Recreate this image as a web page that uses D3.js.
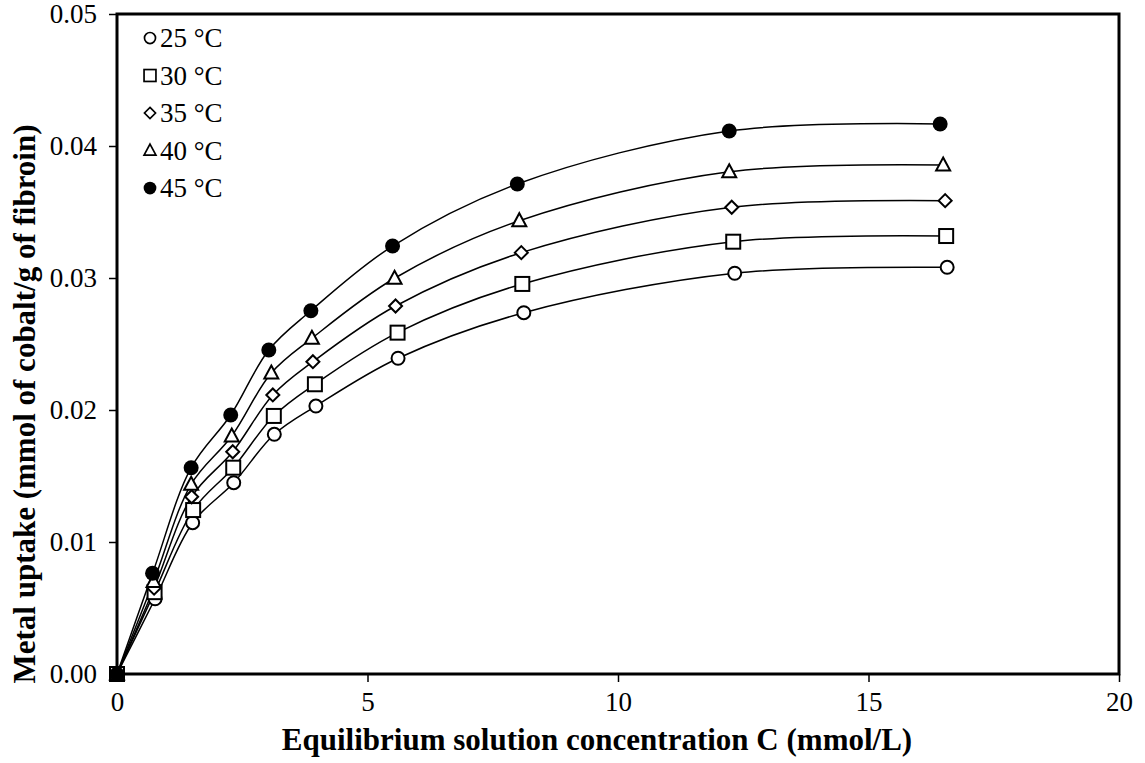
<!DOCTYPE html>
<html>
<head>
<meta charset="utf-8">
<script src="https://cdn.jsdelivr.net/npm/d3@7"></script>
<style>
  html, body { margin: 0; padding: 0; background: #fff; }
  svg { display: block; font-family: "Liberation Serif", "Times New Roman", serif; }
</style>
</head>
<body>
<svg id="chart" width="1145" height="763"></svg>
<script>
// Cobalt uptake isotherms on fibroin at five temperatures
const seriesNames = ["25 °C", "30 °C", "35 °C", "40 °C", "45 °C"];
const symbols = ["circle", "square", "diamond", "triangle", "dot"];

const c25 = [0, 0.76, 1.51, 2.33, 3.14, 3.97, 5.61, 8.12, 12.33, 16.57];
const q25 = [0, 0.0057, 0.01146, 0.01449, 0.01816, 0.0203, 0.02392, 0.02737, 0.03036, 0.03081];
const c30 = [0, 0.75, 1.52, 2.32, 3.13, 3.95, 5.6, 8.09, 12.3, 16.55];
const q30 = [0, 0.0062, 0.01242, 0.01563, 0.01955, 0.02195, 0.02586, 0.02955, 0.03275, 0.03318];
const c35 = [0, 0.74, 1.49, 2.31, 3.11, 3.91, 5.56, 8.07, 12.27, 16.53];
const q35 = [0, 0.0065, 0.01343, 0.01684, 0.02114, 0.02366, 0.02788, 0.03192, 0.03536, 0.03586];
const c40 = [0, 0.73, 1.48, 2.29, 3.08, 3.89, 5.54, 8.03, 12.22, 16.49];
const q40 = [0, 0.007, 0.01437, 0.01803, 0.0228, 0.02543, 0.02998, 0.03434, 0.03805, 0.03856];
const c45 = [0, 0.71, 1.48, 2.27, 3.03, 3.87, 5.5, 7.99, 12.22, 16.43];
const q45 = [0, 0.00763, 0.01563, 0.01962, 0.02455, 0.02752, 0.03242, 0.03712, 0.04114, 0.04167];

const xTicks = [0, 5, 10, 15, 20];
const yTicks = [0, 0.01, 0.02, 0.03, 0.04, 0.05];

const cs = [c25, c30, c35, c40, c45];
const qs = [q25, q30, q35, q40, q45];
const series = seriesNames.map((name, i) => ({
  name, symbol: symbols[i],
  points: cs[i].map((c, j) => ({ c, q: qs[i][j] }))
}));

const svg = d3.select("#chart");
const margin = { top: 14, right: 26, bottom: 89, left: 117 };
const W = 1145, H = 763;
const innerW = W - margin.left - margin.right;
const innerH = H - margin.top - margin.bottom;

const x = d3.scaleLinear().domain([0, 20]).range([margin.left, margin.left + innerW]);
const y = d3.scaleLinear().domain([0, 0.05]).range([margin.top + innerH, margin.top]);

// Axes
const xAxis = svg.append("g")
  .attr("transform", `translate(0,${margin.top + innerH})`)
  .call(d3.axisBottom(x).tickValues(xTicks).tickFormat(d3.format("d")).tickSize(8).tickPadding(10));
const yAxis = svg.append("g")
  .attr("transform", `translate(${margin.left},0)`)
  .call(d3.axisLeft(y).tickValues(yTicks).tickFormat(d3.format(".2f")).tickSize(8).tickPadding(12));

[xAxis, yAxis].forEach(g => {
  g.select(".domain").remove();
  g.selectAll(".tick line").attr("stroke", "#000").attr("stroke-width", 1.5);
  g.selectAll(".tick text").attr("fill", "#000").style("font-size", "27px")
    .style("font-family", '"Liberation Serif", "Times New Roman", serif');
});

// Frame
svg.append("rect")
  .attr("x", margin.left).attr("y", margin.top)
  .attr("width", innerW).attr("height", innerH)
  .attr("fill", "none").attr("stroke", "#000").attr("stroke-width", 3);

// Smoothed curves through the measured points
const line = d3.line().x(d => x(d.c)).y(d => y(d.q)).curve(d3.curveCatmullRom.alpha(0.5));
svg.append("g").selectAll("path").data(series).join("path")
  .attr("d", d => line(d.points))
  .attr("fill", "none").attr("stroke", "#000").attr("stroke-width", 1.5);

// Marker shapes
function drawMarker(sel, sym) {
  if (sym === "circle") {
    sel.append("circle").attr("r", 6.5).attr("fill", "#fff").attr("stroke", "#000").attr("stroke-width", 2);
  } else if (sym === "dot") {
    sel.append("circle").attr("r", 7.5).attr("fill", "#000");
  } else if (sym === "square") {
    sel.append("rect").attr("x", -7).attr("y", -7).attr("width", 14).attr("height", 14)
      .attr("fill", "#fff").attr("stroke", "#000").attr("stroke-width", 2);
  } else if (sym === "diamond") {
    sel.append("path").attr("d", "M0,-6.5L6.5,0L0,6.5L-6.5,0Z")
      .attr("fill", "#fff").attr("stroke", "#000").attr("stroke-width", 2);
  } else if (sym === "triangle") {
    sel.append("path").attr("d", "M0,-7.5L7,5.5L-7,5.5Z")
      .attr("fill", "#fff").attr("stroke", "#000").attr("stroke-width", 2);
  }
}

series.forEach(s => {
  const g = svg.append("g");
  s.points.forEach(p => {
    const m = g.append("g").attr("transform", `translate(${x(p.c)},${y(p.q)})`);
    drawMarker(m, s.symbol);
  });
});

// Legend
const legend = svg.append("g");
series.forEach((s, i) => {
  const row = legend.append("g").attr("transform", `translate(150,${38 + i * 37.5})`);
  const m = row.append("g").attr("transform", "scale(0.85)");
  drawMarker(m, s.symbol);
  row.append("text").attr("x", 10).attr("y", 0).attr("dy", "0.35em")
    .style("font-size", "27px").attr("fill", "#000").text(s.name);
});

// Axis titles
svg.append("text")
  .attr("x", 597).attr("y", 750)
  .attr("text-anchor", "middle")
  .style("font-size", "31px").style("font-weight", "bold")
  .text("Equilibrium solution concentration C (mmol/L)");

svg.append("text")
  .attr("transform", `translate(35,${margin.top + innerH / 2 + 60}) rotate(-90)`)
  .attr("text-anchor", "middle")
  .style("font-size", "31px").style("font-weight", "bold")
  .text("Metal uptake (mmol of cobalt/g of fibroin)");
</script>
</body>
</html>
